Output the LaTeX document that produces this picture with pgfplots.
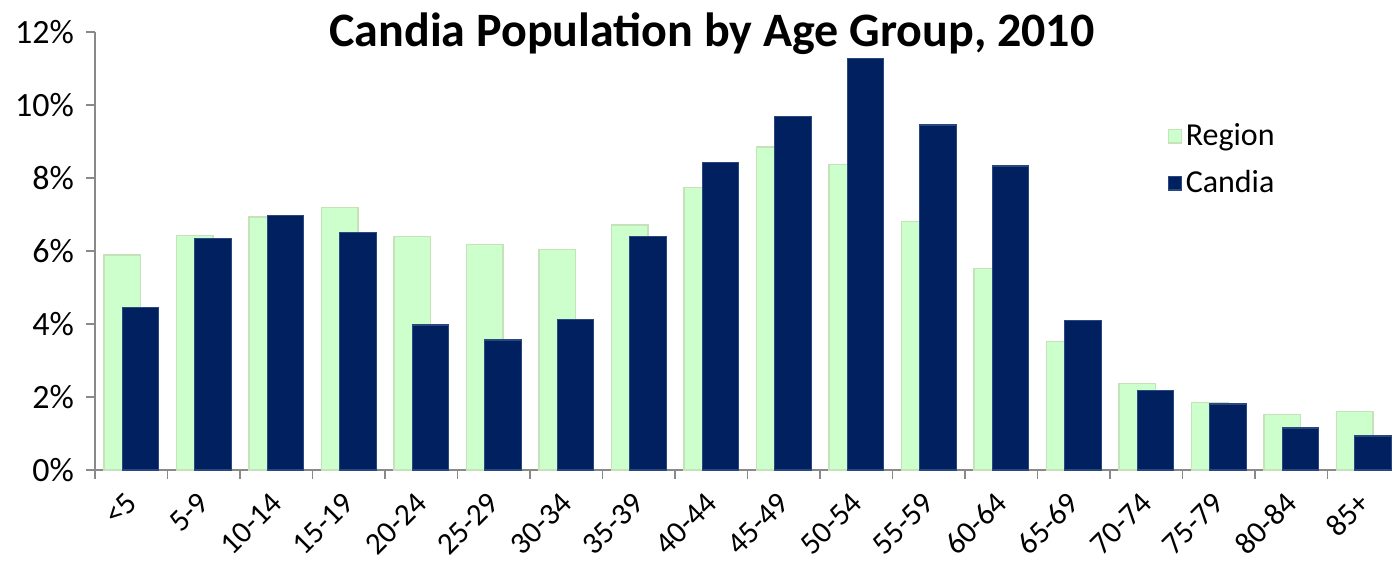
\documentclass[border=0pt]{standalone}
\usepackage{fontspec}
\setmainfont{Carlito}
\usepackage{pgfplots}
\pgfplotsset{compat=1.18}

\definecolor{regionfill}{HTML}{CCFFCC}
\definecolor{regionedge}{HTML}{C6E2B8}
\definecolor{candiafill}{HTML}{002060}
\definecolor{candiaedge}{HTML}{2A4880}
\definecolor{axisgray}{HTML}{898989}

\begin{document}
\begin{tikzpicture}
\begin{axis}[
    at={(0,0)}, anchor=south west,
    scale only axis,
    width=648.5pt, height=219pt,
    ybar, bar width=18.25pt,
    xmin=-0.5, xmax=17.39,
    ymin=0, ymax=12,
    axis x line=bottom, axis y line=left,
    axis line style={-, axisgray, line width=0.9pt},
    xtick={0,...,17},
    xticklabels={<5,5-9,10-14,15-19,20-24,25-29,30-34,35-39,40-44,45-49,50-54,55-59,60-64,65-69,70-74,75-79,80-84,85+},
    major x tick style={draw=none},
    minor xtick={-0.5,0.5,...,16.5},
    minor tick length=4.5pt,
    minor x tick style={axisgray, line width=0.9pt},
    ytick={0,2,...,12},
    yticklabel={\pgfmathprintnumber{\tick}\%},
    major tick length=4.5pt,
    tick align=outside,
    ytick style={axisgray, line width=0.9pt},
    /pgf/number format/assume math mode=true,
    tick label style={font=\fontsize{16}{18}\selectfont},
    yticklabel style={font=\fontsize{17}{19}\selectfont, xshift=-2.5pt},
    xticklabel style={font=\fontsize{15.5}{17}\selectfont, xshift=2.5pt, yshift=-7pt, rotate=45, anchor=east},
    legend style={draw=none, fill=none, at={(0.822,0.81)}, anchor=north west,
        font=\fontsize{16}{18}\selectfont, row sep=7pt,
        /tikz/every even column/.append style={column sep=8pt}},
    legend image code/.code={\draw[#1] (0pt,-3.4pt) rectangle (6.5pt,3.4pt);},
    legend cell align=left,
    clip=false,
]
\addplot[fill=regionfill, draw=regionedge, line width=0.6pt, bar shift=-4.5pt] coordinates {
(0,5.89) (1,6.43) (2,6.93) (3,7.20) (4,6.39) (5,6.18) (6,6.03) (7,6.71) (8,7.75)
(9,8.85) (10,8.37) (11,6.81) (12,5.53) (13,3.53) (14,2.37) (15,1.84) (16,1.53) (17,1.60)};
\addplot[fill=candiafill, draw=candiaedge, line width=0.6pt, bar shift=4.6pt] coordinates {
(0,4.46) (1,6.35) (2,6.97) (3,6.51) (4,3.97) (5,3.56) (6,4.13) (7,6.40) (8,8.43)
(9,9.68) (10,11.28) (11,9.45) (12,8.33) (13,4.10) (14,2.17) (15,1.81) (16,1.15) (17,0.93)};
\legend{Region, Candia}
\node[anchor=base, font=\bfseries\fontsize{24}{28}\selectfont] at (rel axis cs:0.4757,0.968) {Candia Population by Age Group, 2010};
\end{axis}
\pgfresetboundingbox
\useasboundingbox (-47.5pt,-45.5pt) rectangle (648.5pt,235pt);
\end{tikzpicture}
\end{document}
